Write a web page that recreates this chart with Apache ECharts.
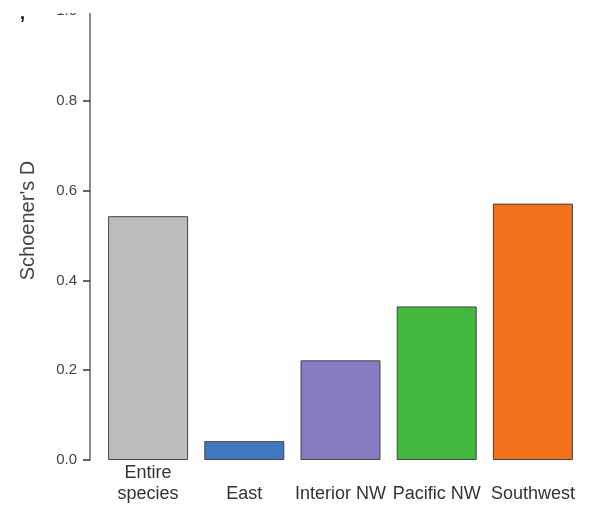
<!DOCTYPE html>
<html><head><meta charset="utf-8">
<script src="https://cdn.jsdelivr.net/npm/echarts@6/dist/echarts.min.js"></script>
<style>html,body{margin:0;padding:0;background:#fff}#c{width:590px;height:505px}</style>
</head><body><div id="c"></div>
<script>
const categories = ['Entire\nspecies', 'East', 'Interior NW', 'Pacific NW', 'Southwest'];
const values = [0.543, 0.042, 0.222, 0.342, 0.571];
const colors = ['#bdbcba', '#4278c0', '#877cc2', '#42b83e', '#f2701a'];
const yTicks = [0, 0.2, 0.4, 0.6, 0.8, 1.0];

const chart = echarts.init(document.getElementById('c'), null, {renderer: 'canvas'});
const font = 'Liberation Sans, Arial, sans-serif';
chart.setOption({
  animation: false,
  grid: {left: 100, right: 9, top: 11, bottom: 43},
  xAxis: {
    type: 'category', data: categories,
    axisLine: {show: false}, axisTick: {show: false},
    axisLabel: {
      interval: 0, margin: 3, fontSize: 18, lineHeight: 21, color: '#333', fontFamily: font,
      formatter: v => v.indexOf('\n') >= 0 ? v : '\n' + v
    }
  },
  yAxis: {
    type: 'value', min: 0, max: 1.0, interval: 0.2, offset: 10,
    name: "Schoener's D", nameLocation: 'middle', nameGap: 52,
    nameTextStyle: {fontSize: 20, color: '#444', fontFamily: font, padding: [0, 0, 0, 30]},
    splitLine: {show: false},
    axisLine: {show: true, lineStyle: {color: '#666', width: 1.5}},
    axisTick: {show: true, length: 7, lineStyle: {color: '#333', width: 1.5}},
    axisLabel: {margin: 13, fontSize: 15, color: '#444', fontFamily: font,
      formatter: v => yTicks.includes(+v.toFixed(1)) ? v.toFixed(1) : ''}
  },
  series: [{
    type: 'bar', barWidth: 80,
    data: values.map((v, i) => ({value: v, itemStyle: {color: colors[i]}})),
    itemStyle: {borderColor: '#444', borderWidth: 1}
  }],
  graphic: [
    {type: 'rect', shape: {x: 0, y: 0, width: 590, height: 13}, style: {fill: '#fff'}, z: 100},
    {type: 'text', left: 20, top: 5, style: {text: ',', fontSize: 18, fontWeight: 'bold', fill: '#000', font: 'bold 18px Liberation Sans'}, z: 101}
  ]
});
</script></body></html>
